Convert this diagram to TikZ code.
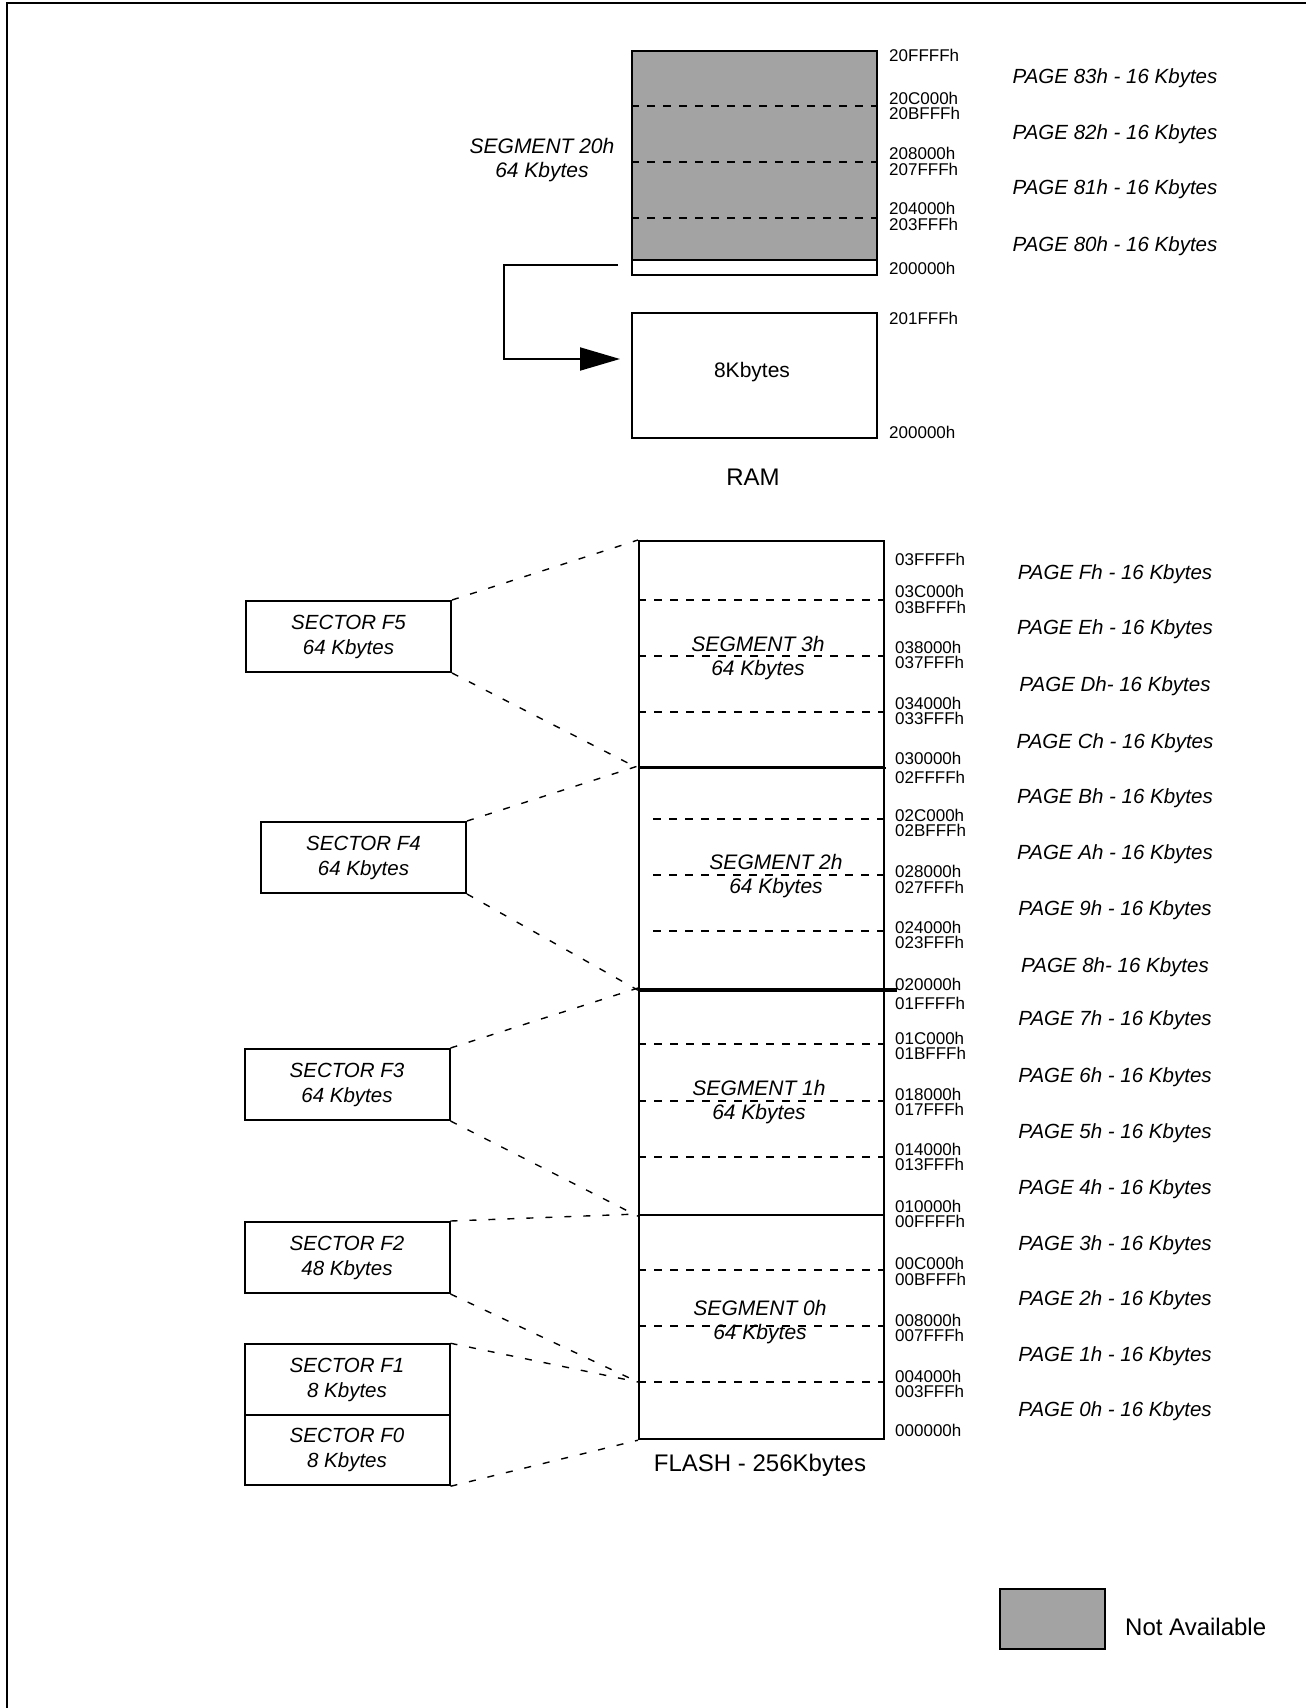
\documentclass[tikz,border=0pt]{standalone}
\usepackage{fontspec}
\setmainfont{Liberation Sans}
\usetikzlibrary{arrows.meta}
\definecolor{notavail}{RGB}{163,163,163}
\begin{document}
\begin{tikzpicture}[x=1pt,y=-1pt,
  addr/.style={anchor=west, inner sep=0pt, text height=12.2pt, text depth=0pt, font=\fontsize{17}{17}\selectfont},
  pagelbl/.style={inner sep=0pt, text height=14.7pt, text depth=0pt, font=\fontsize{20.5}{20.5}\selectfont\itshape},
  seglbl/.style={align=center, inner sep=0pt, font=\fontsize{21}{24}\selectfont\itshape},
  sectorbox/.style={draw, line width=2pt, minimum width=205pt, minimum height=71pt, inner sep=0pt, align=center, font=\fontsize{20.5}{25}\selectfont\itshape},
  blk/.style={draw, line width=2.2pt, inner sep=0pt},
  quarter/.style={dash pattern=on 8pt off 8pt, line width=1.8pt},
  link/.style={dash pattern=on 7pt off 12pt, line width=1.4pt},
  big/.style={inner sep=0pt, text height=17.2pt, text depth=0pt, font=\fontsize{24}{24}\selectfont}
]
\useasboundingbox (0,0) rectangle (1306,1708);
% frame
\draw[line width=2.6pt] (7,1708) -- (7,3) -- (1306,3);

% ---------------- RAM ----------------
\fill[notavail] (631,50) rectangle (876,260);
\node[blk, anchor=north west, minimum width=245pt, minimum height=224pt] (ram20) at (631,50) {};
\draw[line width=2pt] (631,260) -- (876,260);
\foreach \y in {106,162,218}
  \draw[quarter] (631,\y) -- (876,\y);
\node[seglbl] (seg20lbl) at (542,160) {SEGMENT 20h\\64 Kbytes};

\node[blk, anchor=north west, minimum width=245pt, minimum height=125pt] (ram8k) at (631,312) {};
\node[inner sep=0pt, font=\fontsize{21}{21}\selectfont] (ram8klbl) at (752,372) {8Kbytes};
\node[big] (ramlbl) at (753,477) {RAM};

\coordinate (strip) at (618,265);
\coordinate (arrtip) at (620,359);
\draw[line width=2pt, -{Triangle[length=40pt, width=23pt]}] (strip) -- (504,265) |- (arrtip);

\foreach \t/\y [count=\i] in {20FFFFh/55, 20C000h/98, 20BFFFh/113, 208000h/153, 207FFFh/169, 204000h/208, 203FFFh/224, 200000h/268, 201FFFh/318, 200000h/432}
  \node[addr] (ra\i) at (889,\y) {\t};

\foreach \t/\y [count=\i] in {83h/76, 82h/132, 81h/187, 80h/244}
  \node[pagelbl] (rp\i) at (1115,\y) {PAGE \t\ - 16 Kbytes};

% ---------------- FLASH ----------------
\node[blk, anchor=north west, minimum width=245pt, minimum height=226pt] (seg3) at (638,540) {};
\node[blk, anchor=north west, minimum width=245pt, minimum height=222pt] (seg2) at (638,766) {};
\node[blk, anchor=north west, minimum width=245pt, minimum height=226pt] (seg1) at (638,988) {};
\node[blk, anchor=north west, minimum width=245pt, minimum height=224pt] (seg0) at (638,1214) {};
\draw[line width=2.2pt] (seg3.south west) -- ++(248,0);
\draw[line width=4.2pt] (seg2.south west) -- ++(259,0);

\foreach \y in {600,656,712,1044,1101,1157,1270,1326,1382}
  \draw[quarter] (638,\y) -- (883,\y);
\foreach \y in {819,875,931}
  \draw[quarter] (653,\y) -- (883,\y);
\coordinate (q0) at (638,1382);

\node[seglbl] (seg3lbl) at (758,658) {SEGMENT 3h\\64 Kbytes};
\node[seglbl] (seg2lbl) at (776,876) {SEGMENT 2h\\64 Kbytes};
\node[seglbl] (seg1lbl) at (759,1102) {SEGMENT 1h\\64 Kbytes};
\node[seglbl] (seg0lbl) at (760,1322) {SEGMENT 0h\\64 Kbytes};
\node[big] (flashlbl) at (760,1463) {FLASH - 256Kbytes};

\foreach \t/\y [count=\i] in {03FFFFh/559, 03C000h/591, 03BFFFh/607, 038000h/647, 037FFFh/662, 034000h/703, 033FFFh/718, 030000h/758, 02FFFFh/777, 02C000h/815, 02BFFFh/830, 028000h/871, 027FFFh/887, 024000h/927, 023FFFh/942, 020000h/984, 01FFFFh/1003, 01C000h/1038, 01BFFFh/1053, 018000h/1094, 017FFFh/1109, 014000h/1149, 013FFFh/1164, 010000h/1206, 00FFFFh/1221, 00C000h/1263, 00BFFFh/1279, 008000h/1320, 007FFFh/1335, 004000h/1376, 003FFFh/1391, 000000h/1430}
  \node[addr] (fa\i) at (895,\y) {\t};

\foreach \t/\y [count=\i] in {Fh - /572, Eh - /627, Dh- /684, Ch - /741, Bh - /796, Ah - /852, 9h - /908, 8h- /965, 7h - /1018, 6h - /1075, 5h - /1131, 4h - /1187, 3h - /1243, 2h - /1298, 1h - /1354, 0h - /1409}
  \node[pagelbl] (fp\i) at (1115,\y) {PAGE \t16 Kbytes};

% ---------------- Sectors ----------------
\node[sectorbox] (f5) at (348.5,636.5) {SECTOR F5\\64 Kbytes};
\node[sectorbox] (f4) at (363.5,857.5) {SECTOR F4\\64 Kbytes};
\node[sectorbox] (f3) at (347,1084.5) {SECTOR F3\\64 Kbytes};
\node[sectorbox] (f2) at (347,1257.5) {SECTOR F2\\48 Kbytes};
\node[sectorbox, minimum height=70.5pt] (f1) at (347,1379.5) {SECTOR F1\\8 Kbytes};
\node[sectorbox, minimum height=70.5pt] (f0) at (347,1450) {SECTOR F0\\8 Kbytes};

\draw[link] (f5.north east) -- (seg3.north west);
\draw[link] (f5.south east) -- (seg3.south west);
\draw[link] (f4.north east) -- (seg2.north west);
\draw[link] (f4.south east) -- (seg2.south west);
\draw[link] (f3.north east) -- (seg1.north west);
\draw[link] (f3.south east) -- (seg1.south west);
\draw[link] (f2.north east) -- (seg0.north west);
\draw[link] (f2.south east) -- (q0);
\draw[link] (f1.north east) -- (q0);
\draw[link] (f0.south east) -- (seg0.south west);

% ---------------- Legend ----------------
\node[draw, line width=2.4pt, fill=notavail, anchor=north west, minimum width=105pt, minimum height=60pt, inner sep=0pt] (legbox) at (999,1588) {};
\node[big, anchor=west] (leglbl) at (1125,1627) {Not Available};
\end{tikzpicture}
\end{document}
